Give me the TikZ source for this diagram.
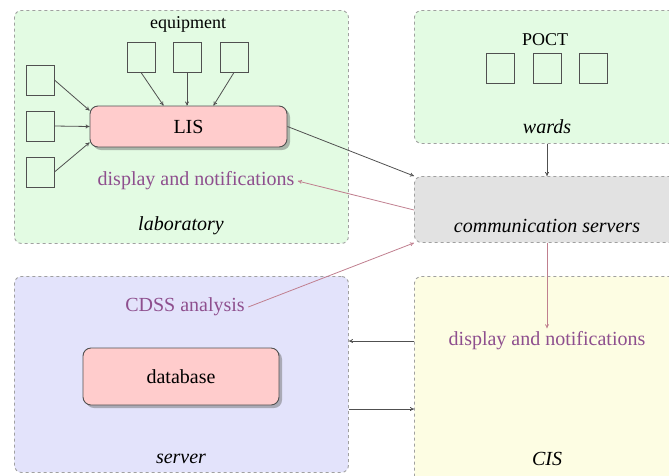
\documentclass[tikz,border=0pt]{standalone}
\usepackage{fontspec}
\setmainfont{Liberation Serif}
\usetikzlibrary{shadows,arrows.meta,calc}
\definecolor{labgreen}{HTML}{E3FBE3}
\definecolor{commgray}{HTML}{E2E2E2}
\definecolor{srvblue}{HTML}{E3E3FB}
\definecolor{cisyellow}{HTML}{FDFDE3}
\definecolor{borderg}{HTML}{A0A0A0}
\definecolor{purpletxt}{HTML}{8E4F8E}
\definecolor{pinkline}{HTML}{C07F8F}
\definecolor{lispink}{HTML}{FFCCCC}
\definecolor{darkline}{HTML}{505050}
\tikzset{
  region/.style={draw=borderg, dashed, line width=0.9pt, rounded corners=7pt, anchor=north west, inner sep=0pt},
  sqbox/.style={draw=darkline, line width=0.9pt, minimum width=28pt, minimum height=30pt, inner sep=0pt},
  sysbox/.style={draw=darkline, line width=0.9pt, fill=lispink, rounded corners=8pt,
     drop shadow={shadow xshift=3pt, shadow yshift=-3pt, fill=black!55}},
  bigtxt/.style={font=\fontsize{20}{24}\selectfont},
  midtxt/.style={font=\fontsize{18}{22}\selectfont},
  ital/.style={font=\fontsize{20}{24}\selectfont\itshape},
  purp/.style={text=purpletxt, font=\fontsize{20}{24}\selectfont},
  darr/.style={draw=darkline, line width=0.8pt, -{To[length=4pt,width=4pt]}},
  parr/.style={draw=pinkline, line width=0.8pt, -{To[length=4pt,width=4pt]}},
}
\begin{document}
\begin{tikzpicture}[x=1pt,y=-1pt]
\useasboundingbox (0,0) rectangle (669,475);
\clip (0,0) rectangle (669,475);
% regions
\node[region, fill=labgreen, minimum width=334pt, minimum height=233pt] (lab) at (14,10) {};
\node[region, fill=labgreen, minimum width=275pt, minimum height=133pt] (wards) at (414,10) {};
\node[region, fill=commgray, minimum width=275pt, minimum height=66pt] (comm) at (414,176) {};
\node[region, fill=srvblue, minimum width=334pt, minimum height=196pt] (server) at (14,276) {};
\node[region, fill=cisyellow, minimum width=275pt, minimum height=230pt] (cis) at (414,276) {};
% laboratory content
\node[midtxt] (equip) at (188,24) {equipment};
\node[sqbox] (e1) at (141,57) {};
\node[sqbox] (e2) at (187,57) {};
\node[sqbox] (e3) at (234,57) {};
\node[sqbox] (l1) at (40,80) {};
\node[sqbox] (l2) at (40,126) {};
\node[sqbox] (l3) at (40,172) {};
\node[sysbox, bigtxt, minimum width=197pt, minimum height=41pt] (lis) at (188.5,126.5) {LIS};
\node[purp] (labdisp) at (196,181) {display and notifications};
\node[ital] (labtxt) at (181,226) {laboratory};
% wards content
\node[midtxt] (poct) at (545,40) {POCT};
\node[sqbox] (p1) at (500,68) {};
\node[sqbox] (p2) at (547,68) {};
\node[sqbox] (p3) at (593,68) {};
\node[ital] (wardstxt) at (547,127) {wards};
% comm
\node[ital] (commtxt) at (547,226) {communication servers};
% server
\node[purp] (cdss) at (185,307) {CDSS analysis};
\node[sysbox, bigtxt, minimum width=196pt, minimum height=57pt] (db) at (181,376.5) {database};
\node[ital] (srvtxt) at (181,459) {server};
% CIS
\node[purp] (cisdisp) at (547,341) {display and notifications};
\node[ital] (cistxt) at (547,459) {CIS};
\coordinate (lo) at (380,409);
% connectors
\draw[darr] (e1.south) -- ([xshift=-25pt]lis.north);
\draw[darr] (e2.south) -- (lis.north -| e2.south);
\draw[darr] (e3.south) -- ([xshift=25pt]lis.north);
\draw[darr] (l1.east) -- ([yshift=16pt]lis.west);
\draw[darr] (l2.east) -- (lis.west);
\draw[darr] (l3.east) -- ([yshift=-16pt]lis.west);
\draw[darr] (lis.east) -- (comm.north west);
\draw[darr] (wards.south -| wardstxt) -- (comm.north -| wardstxt);
\draw[parr] ([yshift=-34pt]comm.north west) -- (labdisp.east);
\draw[parr] (cdss.east) -- (comm.south west);
\draw[parr] (comm.south -| commtxt) -- (cisdisp.north);
\draw[darr] (cis.west |- cisdisp) -- (server.east |- cisdisp);
\draw[darr] (server.east |- lo) -- (cis.west |- lo);
\end{tikzpicture}
\end{document}
